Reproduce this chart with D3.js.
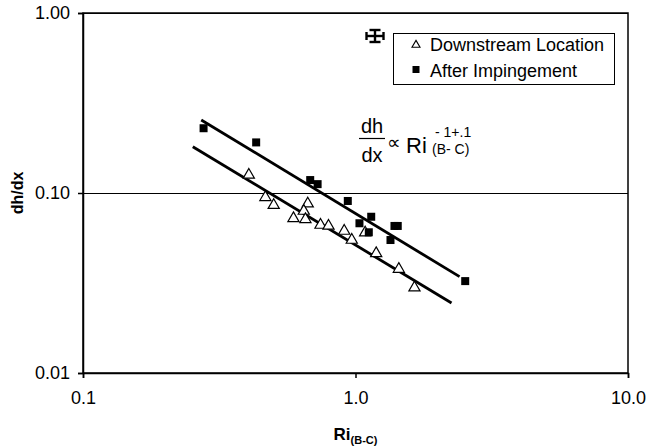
<!DOCTYPE html>
<html>
<head>
<meta charset="utf-8">
<script src="https://cdn.jsdelivr.net/npm/d3@7"></script>
<style>
  html, body { margin: 0; padding: 0; background: #fff; }
  svg { display: block; font-family: "Liberation Sans", Arial, sans-serif; }
</style>
</head>
<body>
<svg id="chart" width="648" height="447"></svg>
<script>
// ---- data ----
const downstreamRi   = [0.406, 0.467, 0.501, 0.668, 0.646, 0.592, 0.655, 0.744, 0.796, 0.909, 0.969, 1.085, 1.191, 1.442, 1.646];
const downstreamDhdx = [0.126, 0.0946, 0.0855, 0.0872, 0.0794, 0.0723, 0.0714, 0.0664, 0.0656, 0.0615, 0.0548, 0.0602, 0.0462, 0.0378, 0.0298];
const impingeRi      = [0.277, 0.432, 0.682, 0.726, 0.937, 1.142, 1.034, 1.119, 1.390, 1.429, 1.344, 2.527];
const impingeDhdx    = [0.229, 0.191, 0.118, 0.112, 0.0903, 0.0738, 0.0679, 0.0605, 0.0656, 0.0656, 0.0548, 0.0324];
// fitted power-law lines (endpoints)
const fitUpperRi   = [0.2716, 2.409];
const fitUpperDhdx = [0.2545, 0.0343];
const fitLowerRi   = [0.2529, 2.251];
const fitLowerDhdx = [0.1807, 0.02449];
const xTicks = [0.1, 1, 10];
const xTickLabels = ["0.1", "1.0", "10.0"];
const yTicks = [0.01, 0.1, 1];
const yTickLabels = ["0.01", "0.10", "1.00"];
const gridValues = [0.1, 1];
const legendLabels = ["Downstream Location", "After Impingement"];

// ---- layout ----
const svg = d3.select("#chart");
const L = 83, R = 628, T = 13, B = 373;
const x = d3.scaleLog().domain([0.1, 10]).range([L, R]);
const y = d3.scaleLog().domain([0.01, 1]).range([B, T]);

// gridlines
svg.append("g").selectAll("line").data(gridValues).join("line")
  .attr("x1", L).attr("x2", R)
  .attr("y1", d => y(d) + 0.5).attr("y2", d => y(d) + 0.5)
  .attr("stroke", "#000").attr("stroke-width", 1);

// plot box
svg.append("rect").attr("x", L).attr("y", T).attr("width", R - L).attr("height", B - T)
  .attr("fill", "none").attr("stroke", "#000").attr("stroke-width", 1.5);

// axes
const xAxis = d3.axisBottom(x).tickValues(xTicks).tickSize(5).tickPadding(13)
  .tickFormat((d, i) => xTickLabels[i]);
const gx = svg.append("g").attr("transform", `translate(0,${B})`).call(xAxis);
const yAxis = d3.axisLeft(y).tickValues(yTicks).tickSize(5).tickPadding(8)
  .tickFormat((d, i) => yTickLabels[i]);
const gy = svg.append("g").attr("transform", `translate(${L},0)`).call(yAxis);
[gx, gy].forEach(g => {
  g.select(".domain").attr("stroke", "#000").attr("stroke-width", 1.5);
  g.selectAll(".tick line").attr("stroke", "#000").attr("stroke-width", 1.5);
  g.selectAll(".tick text").attr("fill", "#000")
    .style("font-family", "'Liberation Sans', Arial, sans-serif").style("font-size", "18px");
});

// axis titles
svg.append("text").attr("transform", `translate(23,${(T + B) / 2}) rotate(-90)`)
  .attr("text-anchor", "middle").style("font-size", "16px").style("font-weight", "bold")
  .text("dh/dx");
const xt = svg.append("text").attr("x", (L + R) / 2).attr("y", 440)
  .attr("text-anchor", "middle").style("font-weight", "bold");
xt.append("tspan").style("font-size", "17px").text("Ri");
xt.append("tspan").style("font-size", "11px").attr("dy", 4).text("(B-C)");

// fit lines
const line = d3.line().x(d => x(d[0])).y(d => y(d[1]));
[[fitUpperRi, fitUpperDhdx], [fitLowerRi, fitLowerDhdx]].forEach(([xs, ys]) => {
  svg.append("path").datum(d3.zip(xs, ys)).attr("d", line)
    .attr("fill", "none").attr("stroke", "#000").attr("stroke-width", 2.8);
});

// triangle markers
const tri = d3.symbol().type(d3.symbolTriangle).size(54);
svg.append("g").selectAll("path").data(d3.zip(downstreamRi, downstreamDhdx)).join("path")
  .attr("d", tri)
  .attr("transform", d => `translate(${x(d[0])},${y(d[1])})`)
  .attr("fill", "#fff").attr("stroke", "#000").attr("stroke-width", 1.2);

// square markers
const sq = 8;
svg.append("g").selectAll("rect").data(d3.zip(impingeRi, impingeDhdx)).join("rect")
  .attr("x", d => x(d[0]) - sq / 2).attr("y", d => y(d[1]) - sq / 2)
  .attr("width", sq).attr("height", sq).attr("fill", "#000");

// legend
const lg = svg.append("g");
lg.append("rect").attr("x", 393.5).attr("y", 33.5).attr("width", 221).attr("height", 51)
  .attr("fill", "#fff").attr("stroke", "#000").attr("stroke-width", 1);
lg.append("path").attr("d", d3.symbol().type(d3.symbolTriangle).size(28))
  .attr("transform", "translate(416,45)")
  .attr("fill", "#fff").attr("stroke", "#000").attr("stroke-width", 1.1);
lg.append("rect").attr("x", 412.5).attr("y", 66).attr("width", 7).attr("height", 7).attr("fill", "#000");
lg.selectAll("text.lab").data(legendLabels).join("text").attr("class", "lab")
  .attr("x", 430).attr("y", (d, i) => 51 + i * 26)
  .style("font-size", "18px").text(d => d);

// error bar symbol
const eb = svg.append("g").attr("stroke", "#000").attr("stroke-width", 2.4);
const ex = 375, ey = 36;
eb.append("line").attr("x1", ex - 8.5).attr("x2", ex + 8.5).attr("y1", ey).attr("y2", ey);
eb.append("line").attr("x1", ex).attr("x2", ex).attr("y1", ey - 6).attr("y2", ey + 6);
eb.append("line").attr("x1", ex - 8.5).attr("x2", ex - 8.5).attr("y1", ey - 4).attr("y2", ey + 4);
eb.append("line").attr("x1", ex + 8.5).attr("x2", ex + 8.5).attr("y1", ey - 4).attr("y2", ey + 4);
eb.append("line").attr("x1", ex - 5.5).attr("x2", ex + 5.5).attr("y1", ey - 6).attr("y2", ey - 6);
eb.append("line").attr("x1", ex - 5.5).attr("x2", ex + 5.5).attr("y1", ey + 6).attr("y2", ey + 6);

// formula annotation
const fm = svg.append("g");
fm.append("text").attr("x", 372).attr("y", 133).attr("text-anchor", "middle").style("font-size", "20px").text("dh");
fm.append("line").attr("x1", 359).attr("x2", 385).attr("y1", 138.5).attr("y2", 138.5).attr("stroke", "#000").attr("stroke-width", 1.2);
fm.append("text").attr("x", 372).attr("y", 162).attr("text-anchor", "middle").style("font-size", "20px").text("dx");
fm.append("text").attr("x", 387).attr("y", 149).style("font-size", "19px").text("\u221D");
fm.append("text").attr("x", 406).attr("y", 153).style("font-size", "22px").text("Ri");
fm.append("text").attr("x", 435).attr("y", 137).style("font-size", "14px").text("- 1+.1");
fm.append("text").attr("x", 432).attr("y", 154).style("font-size", "14px").text("(B- C)");
</script>
</body>
</html>
